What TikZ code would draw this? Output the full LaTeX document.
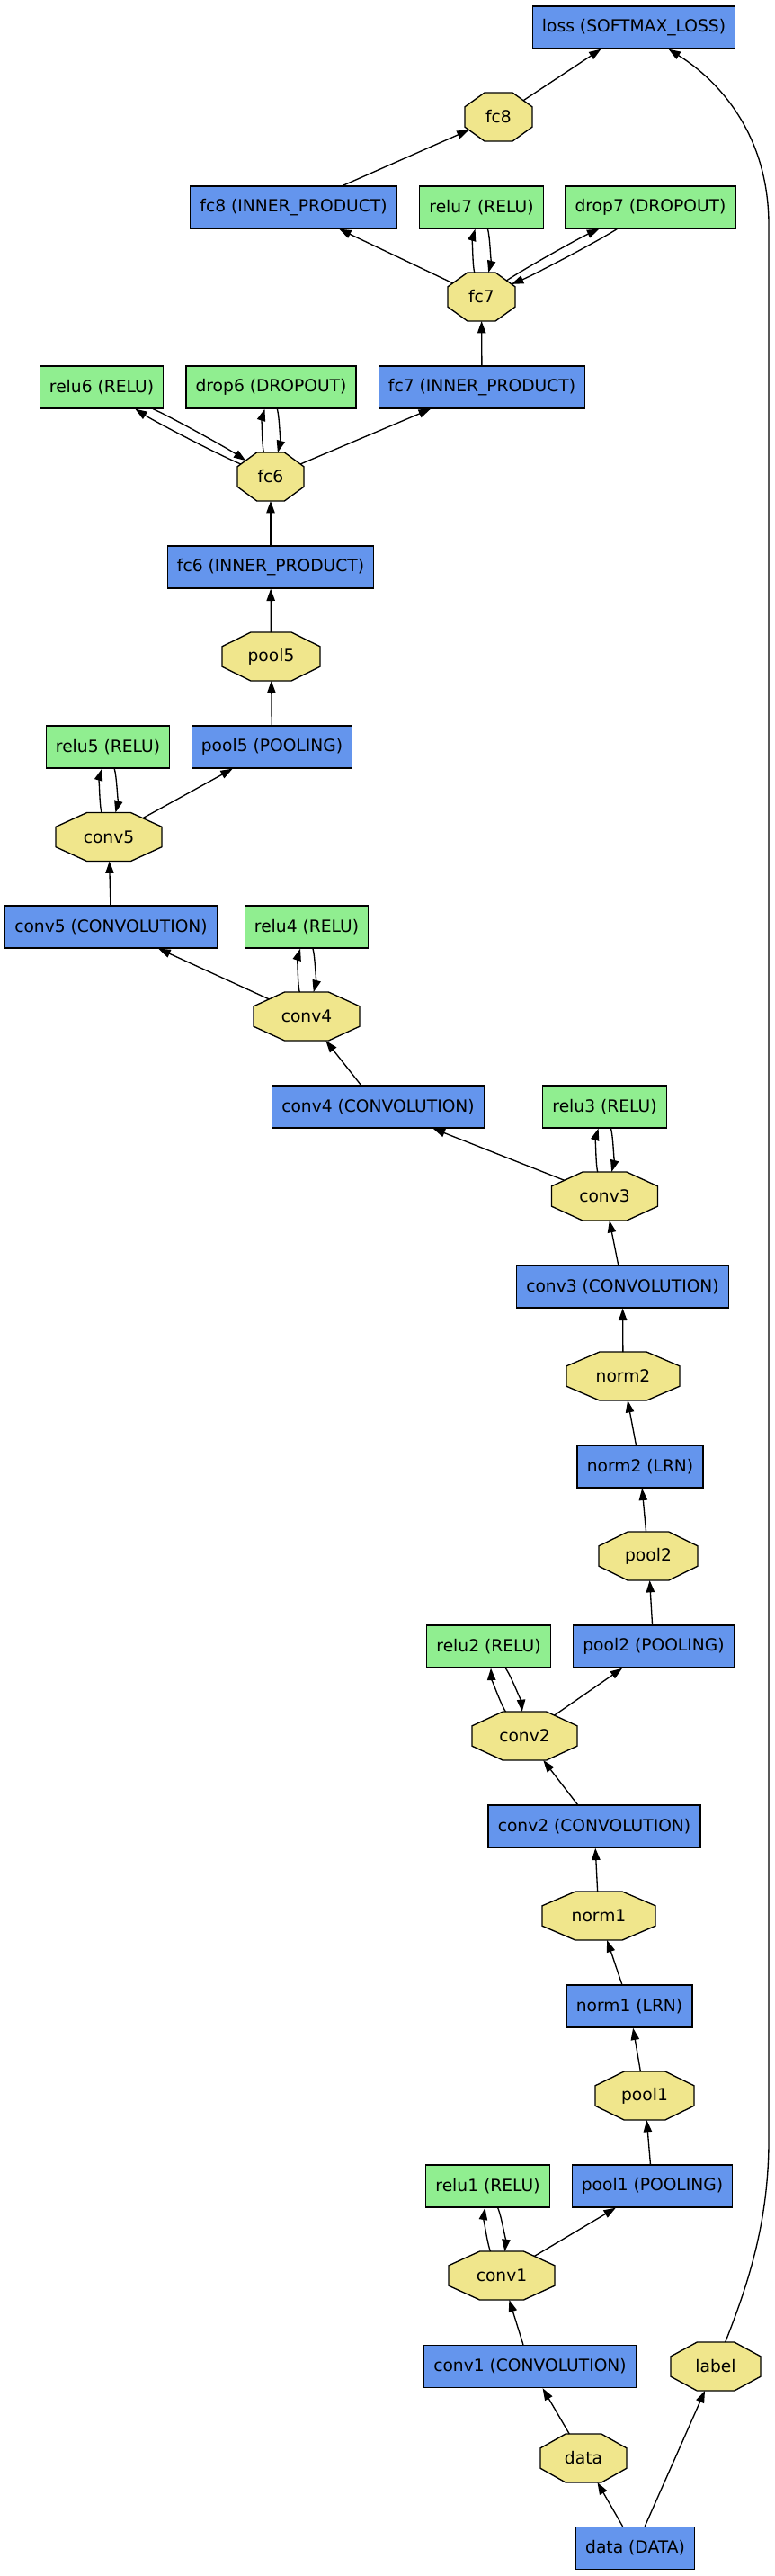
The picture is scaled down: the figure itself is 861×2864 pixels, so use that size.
\documentclass[tikz,border=0pt]{standalone}
\usepackage{fontspec}
\setmainfont{DejaVu Sans}
\usetikzlibrary{arrows.meta}

% octagon with the corners cut at 29.3% of width and height (like graphviz)
\makeatletter
\pgfdeclareshape{octabox}{
  \inheritsavedanchors[from=rectangle]
  \inheritanchor[from=rectangle]{center}
  \inheritanchor[from=rectangle]{north}
  \inheritanchor[from=rectangle]{south}
  \inheritanchor[from=rectangle]{east}
  \inheritanchor[from=rectangle]{west}
  \anchorborder{%
    \edef\oct@dx{\pgf@sys@tonumber\pgf@x}%
    \edef\oct@dy{\pgf@sys@tonumber\pgf@y}%
    \southwest
    \edef\oct@swx{\pgf@sys@tonumber\pgf@x}%
    \edef\oct@swy{\pgf@sys@tonumber\pgf@y}%
    \northeast
    \edef\oct@nex{\pgf@sys@tonumber\pgf@x}%
    \edef\oct@ney{\pgf@sys@tonumber\pgf@y}%
    \pgfmathsetmacro\oct@a{(\oct@nex-\oct@swx)/2}%
    \pgfmathsetmacro\oct@b{(\oct@ney-\oct@swy)/2}%
    \pgfmathsetmacro\oct@ux{abs(\oct@dx)/\oct@a}%
    \pgfmathsetmacro\oct@uy{abs(\oct@dy)/\oct@b}%
    \pgfmathsetmacro\oct@s{max(\oct@ux,\oct@uy,(\oct@ux+\oct@uy)/1.41421)}%
    \pgfmathsetmacro\oct@px{(\oct@nex+\oct@swx)/2+\oct@dx/\oct@s}%
    \pgfmathsetmacro\oct@py{(\oct@ney+\oct@swy)/2+\oct@dy/\oct@s}%
    \pgf@x=\oct@px pt\relax
    \pgf@y=\oct@py pt\relax
  }
  \backgroundpath{%
    \southwest \pgf@xa=\pgf@x \pgf@ya=\pgf@y
    \northeast \pgf@xb=\pgf@x \pgf@yb=\pgf@y
    \pgf@xc=\pgf@xb \advance\pgf@xc by-\pgf@xa \pgf@xc=0.2929\pgf@xc
    \pgf@yc=\pgf@yb \advance\pgf@yc by-\pgf@ya \pgf@yc=0.2929\pgf@yc
    \edef\oct@L{\the\pgf@xa}\edef\oct@R{\the\pgf@xb}%
    \edef\oct@B{\the\pgf@ya}\edef\oct@T{\the\pgf@yb}%
    \edef\oct@Li{\the\dimexpr\pgf@xa+\pgf@xc\relax}%
    \edef\oct@Ri{\the\dimexpr\pgf@xb-\pgf@xc\relax}%
    \edef\oct@Bi{\the\dimexpr\pgf@ya+\pgf@yc\relax}%
    \edef\oct@Ti{\the\dimexpr\pgf@yb-\pgf@yc\relax}%
    \pgfpathmoveto{\pgfqpoint{\oct@Li}{\oct@T}}%
    \pgfpathlineto{\pgfqpoint{\oct@Ri}{\oct@T}}%
    \pgfpathlineto{\pgfqpoint{\oct@R}{\oct@Ti}}%
    \pgfpathlineto{\pgfqpoint{\oct@R}{\oct@Bi}}%
    \pgfpathlineto{\pgfqpoint{\oct@Ri}{\oct@B}}%
    \pgfpathlineto{\pgfqpoint{\oct@Li}{\oct@B}}%
    \pgfpathlineto{\pgfqpoint{\oct@L}{\oct@Bi}}%
    \pgfpathlineto{\pgfqpoint{\oct@L}{\oct@Ti}}%
    \pgfpathclose
  }
}
\makeatother

\tikzset{
  layer/.style={draw, rectangle, line width=1pt, minimum height=35.25pt, inner xsep=8pt, font=\fontsize{14pt}{16pt}\selectfont},
  op/.style={layer, fill={rgb, 255:red, 100; green, 149; blue, 237 }},
  act/.style={layer, fill={rgb, 255:red, 144; green, 238; blue, 144 }},
  blob/.style={draw, shape=octabox, line width=1pt, fill={rgb, 255:red, 240; green, 230; blue, 140 }, inner sep=0pt, outer sep=0pt, minimum height=40.5pt, minimum width=#1*0.75pt, font=\fontsize{14pt}{16pt}\selectfont},
  flow/.style={-{Triangle[length=10pt,width=7pt]}, line width=1pt},
  % in-place layers: two nearly parallel edges
  twin/.style={flow, bend right=#1, looseness=0.5},
}

\begin{document}
\begin{tikzpicture}[x=0.75pt,y=0.75pt,yscale=-1,xscale=1]
\useasboundingbox (0,0) rectangle (861,2864);

% Layers
\node[op] (lossop) at (705,30.5) {loss (SOFTMAX\_LOSS)};
\node[op] (fc8op) at (326.5,230.5) {fc8 (INNER\_PRODUCT)};
\node[act] (relu7) at (535.5,230.5) {relu7 (RELU)};
\node[act] (drop7) at (723.5,230.5) {drop7 (DROPOUT)};
\node[act] (relu6) at (113,430.5) {relu6 (RELU)};
\node[act] (drop6) at (301.5,430.5) {drop6 (DROPOUT)};
\node[op] (fc7op) at (536,430.5) {fc7 (INNER\_PRODUCT)};
\node[op] (fc6op) at (301,630.5) {fc6 (INNER\_PRODUCT)};
\node[act] (relu5) at (120,830.5) {relu5 (RELU)};
\node[op] (pool5op) at (302.5,830.5) {pool5 (POOLING)};
\node[op] (conv5op) at (123.5,1030.5) {conv5 (CONVOLUTION)};
\node[act] (relu4) at (341,1030.5) {relu4 (RELU)};
\node[op] (conv4op) at (420.5,1230.5) {conv4 (CONVOLUTION)};
\node[act] (relu3) at (672.5,1230.5) {relu3 (RELU)};
\node[op] (conv3op) at (692.5,1430.5) {conv3 (CONVOLUTION)};
\node[op] (norm2op) at (712,1630.5) {norm2 (LRN)};
\node[act] (relu2) at (543.5,1830.5) {relu2 (RELU)};
\node[op] (pool2op) at (727,1830.5) {pool2 (POOLING)};
\node[op] (conv2op) at (661,2030.5) {conv2 (CONVOLUTION)};
\node[op] (norm1op) at (700,2230.5) {norm1 (LRN)};
\node[act] (relu1) at (542.5,2430.5) {relu1 (RELU)};
\node[op] (pool1op) at (725.5,2430.5) {pool1 (POOLING)};
\node[op] (conv1op) at (589.5,2631) {conv1 (CONVOLUTION)};
\node[op] (dataop) at (706.5,2833) {data (DATA)};

% Blobs
\node[blob=75] (fc8) at (554.5,130) {fc8};
\node[blob=75] (fc7) at (535.5,330) {fc7};
\node[blob=74] (fc6) at (301,530) {fc6};
\node[blob=109] (pool5) at (301.5,730) {pool5};
\node[blob=118] (conv5) at (121,930.5) {conv5};
\node[blob=118] (conv4) at (341,1130) {conv4};
\node[blob=118] (conv3) at (672.5,1330) {conv3};
\node[blob=126] (norm2) at (693,1530) {norm2};
\node[blob=110] (pool2) at (721,1730) {pool2};
\node[blob=117] (conv2) at (583.5,1930) {conv2};
\node[blob=126] (norm1) at (666,2130) {norm1};
\node[blob=110] (pool1) at (717,2330) {pool1};
\node[blob=118] (conv1) at (558,2530) {conv1};
\node[blob=96] (data) at (649,2733) {data};
\node[blob=100] (label) at (796,2631) {label};

% Input
\draw[flow] (dataop) -- (data);
\draw[flow] (dataop) -- (label);
\draw[flow] (data) -- (conv1op);
% Block 1
\draw[flow] (conv1op) -- (conv1);
\draw[twin=16] (conv1) to (relu1);
\draw[twin=16] (relu1) to (conv1);
\draw[flow] (conv1) -- (pool1op);
\draw[flow] (pool1op) -- (pool1);
\draw[flow] (pool1) -- (norm1op);
\draw[flow] (norm1op) -- (norm1);
\draw[flow] (norm1) -- (conv2op);
% Block 2
\draw[flow] (conv2op) -- (conv2);
\draw[twin=16] (conv2) to (relu2);
\draw[twin=16] (relu2) to (conv2);
\draw[flow] (conv2) -- (pool2op);
\draw[flow] (pool2op) -- (pool2);
\draw[flow] (pool2) -- (norm2op);
\draw[flow] (norm2op) -- (norm2);
\draw[flow] (norm2) -- (conv3op);
% Blocks 3 to 5
\draw[flow] (conv3op) -- (conv3);
\draw[twin=16] (conv3) to (relu3);
\draw[twin=16] (relu3) to (conv3);
\draw[flow] (conv3) -- (conv4op);
\draw[flow] (conv4op) -- (conv4);
\draw[twin=16] (conv4) to (relu4);
\draw[twin=16] (relu4) to (conv4);
\draw[flow] (conv4) -- (conv5op);
\draw[flow] (conv5op) -- (conv5);
\draw[twin=16] (conv5) to (relu5);
\draw[twin=16] (relu5) to (conv5);
\draw[flow] (conv5) -- (pool5op);
\draw[flow] (pool5op) -- (pool5);
\draw[flow] (pool5) -- (fc6op);
% Fully connected
\draw[flow] (fc6op) -- (fc6);
\draw[twin=5] (fc6) to (relu6);
\draw[twin=5] (relu6) to (fc6);
\draw[twin=16] (fc6) to (drop6);
\draw[twin=16] (drop6) to (fc6);
\draw[flow] (fc6) -- (fc7op);
\draw[flow] (fc7op) -- (fc7);
\draw[twin=16] (fc7) to (relu7);
\draw[twin=16] (relu7) to (fc7);
\draw[twin=5] (fc7) to (drop7);
\draw[twin=5] (drop7) to (fc7);
\draw[flow] (fc7) -- (fc8op);
\draw[flow] (fc8op) -- (fc8);
\draw[flow] (fc8) -- (lossop);
% Label runs up the right side
\draw[flow] (label) .. controls (832,2540) and (855,2470) .. (855,2380) -- (855,250) .. controls (855,150) and (800,90) .. (lossop);

\end{tikzpicture}
\end{document}
